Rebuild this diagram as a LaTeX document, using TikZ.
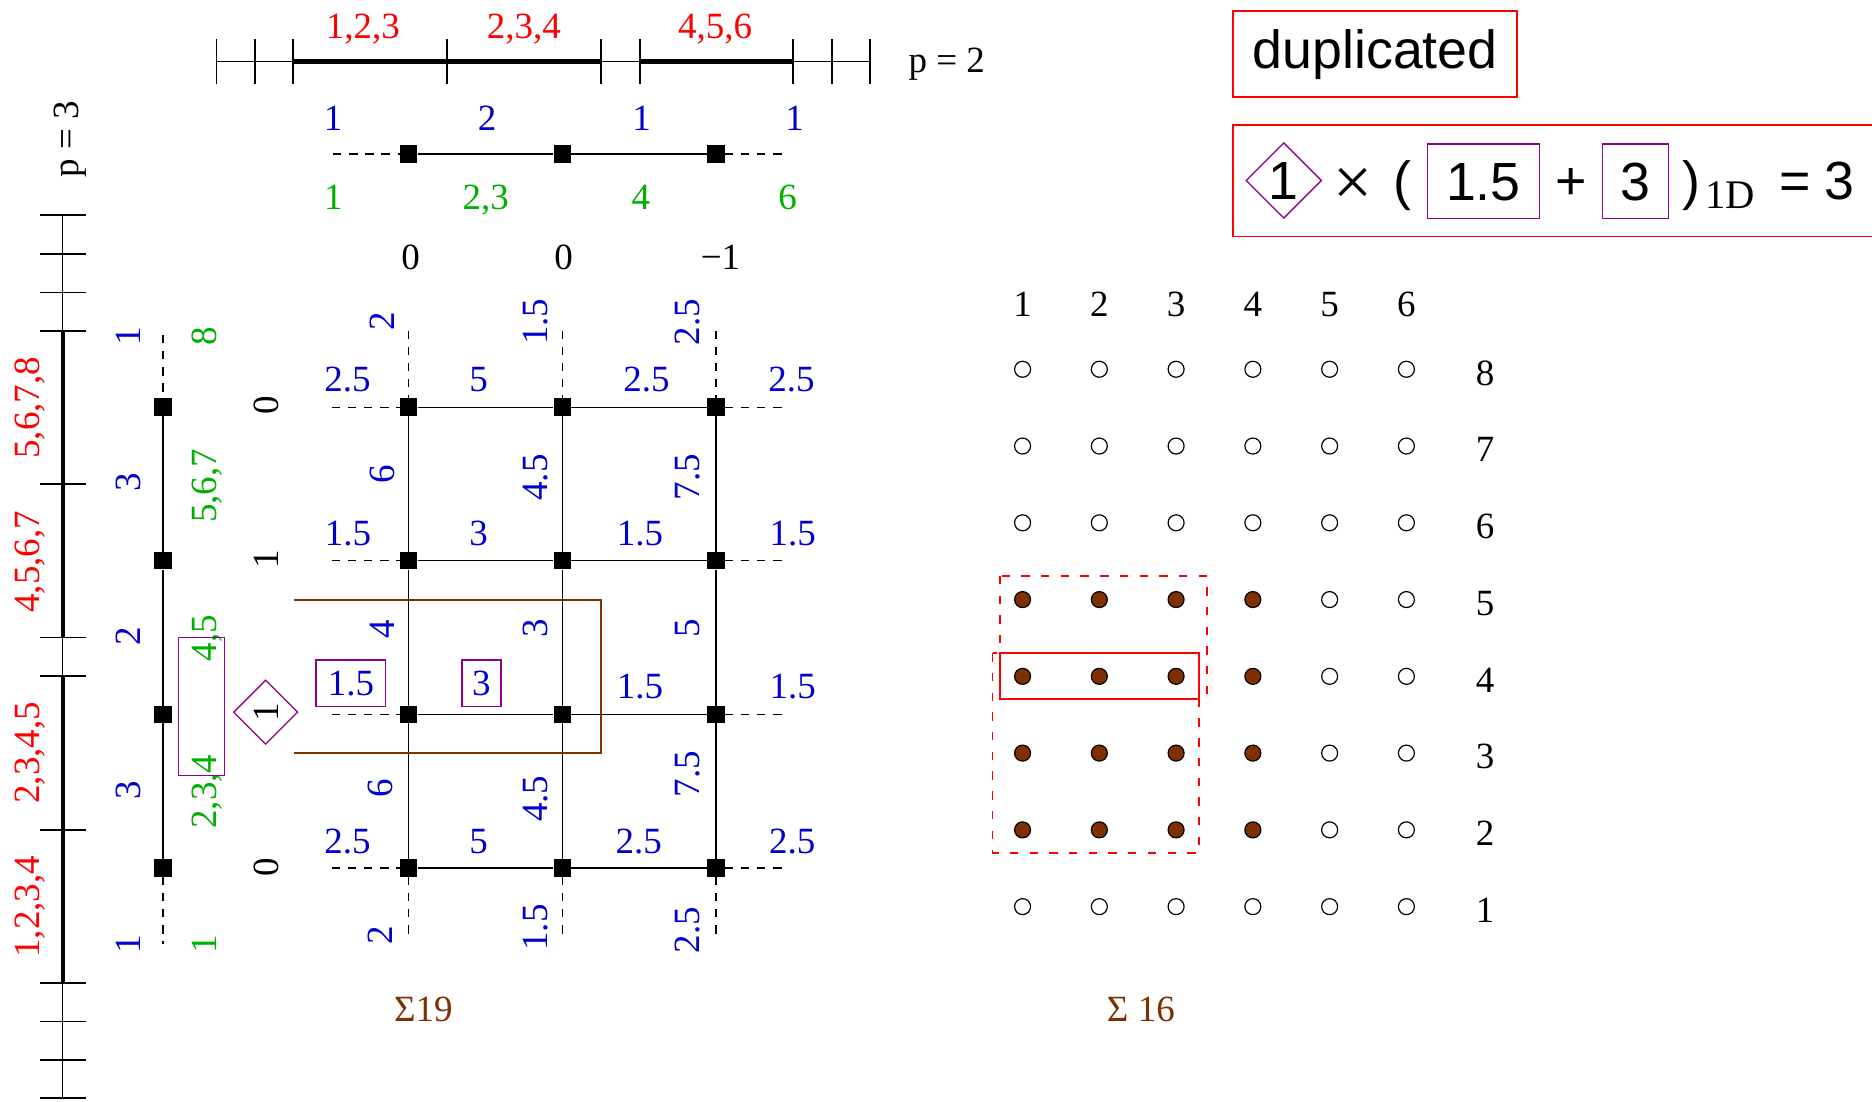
\documentclass[tikz,border=0pt]{standalone}
\usepackage{fontspec}
\setmainfont{Liberation Serif}
\newfontfamily\sansfnt{Liberation Sans}
\usepackage{xcolor}
\usepackage{tikz}
\usetikzlibrary{shapes.geometric,positioning}
\definecolor{knotblue}{RGB}{0,0,208}
\definecolor{knotred}{RGB}{255,0,0}
\definecolor{knotgreen}{RGB}{0,176,0}
\definecolor{suppbrown}{RGB}{128,48,0}
\definecolor{markpurple}{RGB}{144,0,144}

\begin{document}
\begin{tikzpicture}[
  x=1pt,y=-1pt,
  lbl/.style={font=\fontsize{31}{36}\selectfont,inner sep=0pt,text height=21pt,text depth=0pt},
  vlbl/.style={lbl,rotate=90},
  sans/.style={font=\sansfnt\fontsize{45}{54}\selectfont,inner sep=0pt},
  sansbox/.style={sans,text height=32pt,text depth=0pt},
  knot/.style={rectangle,fill=black,inner sep=0pt,minimum size=14.5pt},
  ctrl/.style={circle,draw=black,line width=1pt,fill=white,inner sep=0pt,minimum size=13.4pt},
  gridline/.style={line width=1pt},
  ext/.style={line width=1pt,dash pattern=on 7pt off 6.5pt},
  axisline/.style={line width=0.9pt},
  thickspan/.style={line width=3.8pt},
  tickmark/.style={line width=1.4pt},
  markbox/.style={draw=markpurple,line width=1.1pt},
  supp/.style={draw=suppbrown,line width=1.5pt},
  hit/.style={draw=knotred,line width=1.4pt},
  hitdash/.style={hit,dash pattern=on 7pt off 9.5pt}
]
\useasboundingbox (0,0) rectangle (1568,923);

% knot vector, p = 2
\draw[axisline] (181.3,51.5)--(728.6,51.5);
\draw[thickspan] (245.6,51.5)--(503.4,51.5) (535.8,51.5)--(664.3,51.5);
\foreach \tx in {181.3,213.6,245.6,374.5,503.4,535.8,664.3,696.7,728.6}
  \draw[tickmark] (\tx,33)--(\tx,70.5);
\foreach \lx/\lt [count=\i] in {304/{1,2,3},438.8/{2,3,4},599/{4,5,6}}
  \node[lbl,text=knotred] (kx\i) at (\lx,22) {\lt};
\node[lbl] (px) at (793,50) {p = 2};

% knot vector, p = 3
\draw[axisline] (52.7,180)--(52.7,919.6);
\draw[thickspan] (52.7,277)--(52.7,534) (52.7,566)--(52.7,823.5);
\foreach \ty in {180,212.6,244.9,277,405.4,534,566,695,823.5,855.7,887.8,919.6}
  \draw[tickmark] (33.5,\ty)--(72,\ty);
\foreach \ly/\lt [count=\i] in {341.5/{5,6,7,8},470.5/{4,5,6,7},630.5/{2,3,4,5},759.5/{1,2,3,4}}
  \node[vlbl,text=knotred] (ky\i) at (23,\ly) {\lt};
\node[vlbl] (py) at (55,116.5) {p = 3};

% 1D mesh along x
\node[knot] (u1) at (342.3,129) {};
\node[knot] (u2) at (471,129) {};
\node[knot] (u3) at (599.7,129) {};
\coordinate (u0) at (279,129);
\coordinate (u4) at (660.8,129);
\draw[gridline] (u1)--(u2)--(u3);
\draw[ext] (u0)--(u1) (u3)--(u4);
\foreach \lx/\lt [count=\i] in {279/1,408/2,537.5/1,665.5/1}
  \node[lbl,text=knotblue] (ub\i) at (\lx,99) {\lt};
\foreach \lx/\lt [count=\i] in {279.3/1,406.9/{2,3},536.7/4,659.7/6}
  \node[lbl,text=knotgreen] (ug\i) at (\lx,165) {\lt};
\foreach \lx/\lt [count=\i] in {344/0,472/0,603.5/−1}
  \node[lbl] (uk\i) at (\lx,215) {\lt};

% 1D mesh along y
\node[knot] (w1) at (136.5,341) {};
\node[knot] (w2) at (136.5,469.7) {};
\node[knot] (w3) at (136.5,598.4) {};
\node[knot] (w4) at (136.5,727) {};
\coordinate (w0) at (136.5,280.6);
\coordinate (w5) at (136.5,791);
\draw[gridline] (w1)--(w2)--(w3)--(w4);
\draw[ext] (w0)--(w1) (w4)--(w5);
\foreach \ly/\lt [count=\i] in {282/1,404/3,533/2,662/3,790.5/1}
  \node[vlbl,text=knotblue] (wb\i) at (107,\ly) {\lt};
\foreach \ly/\lt [count=\i] in {281.6/8,407/{5,6,7},534.6/{4,5},663/{2,3,4},790.5/1}
  \node[vlbl,text=knotgreen] (wg\i) at (171,\ly) {\lt};
\foreach \ly/\lt [count=\i] in {339.6/0,468.4/1,726/0}
  \node[vlbl] (wk\i) at (222.5,\ly) {\lt};
\node[vlbl,markbox,shape=diamond,minimum size=54pt] (wdia) at (222.5,596.5) {1};
\draw[markbox] (149.5,534) rectangle (188,649.6);

% 2D mesh
\foreach \c/\gx in {1/342.3,2/471,3/599.7}{
  \foreach \r/\gy in {1/341,2/469.7,3/598.4,4/727}
    \node[knot] (g\c\r) at (\gx,\gy) {};
  \coordinate (gt\c) at (\gx,277);
  \coordinate (gb\c) at (\gx,788);
}
\foreach \r/\gy in {1/341,2/469.7,3/598.4,4/727}{
  \coordinate (gl\r) at (278,\gy);
  \coordinate (gr\r) at (659,\gy);
  \draw[gridline] (g1\r)--(g2\r)--(g3\r);
  \draw[ext] (gl\r)--(g1\r) (g3\r)--(gr\r);
}
\foreach \c in {1,2,3}{
  \draw[gridline] (g\c1)--(g\c2)--(g\c3)--(g\c4);
  \draw[ext] (gt\c)--(g\c1) (g\c4)--(gb\c);
}
\foreach \lx/\ly/\lt [count=\i] in {291/317.7/2.5,401/317.7/5,541.6/317.7/2.5,663/317.7/2.5,
    291.5/446.6/1.5,401/446.6/3,536/446.6/1.5,664/446.6/1.5,536/574.2/1.5,664/574.2/1.5,
    291/704.3/2.5,401/704.3/5,535/704.3/2.5,663.6/704.3/2.5}
  \node[lbl,text=knotblue] (gh\i) at (\lx,\ly) {\lt};
\foreach \lx/\ly/\lt [count=\i] in {319.6/269/2,319.6/397/6,319.6/527/4,318.3/660.3/6,318.3/783/2,
    448/269.4/1.5,448/400/4.5,448/526.4/3,448/669/4.5,448/776.8/1.5,
    575.7/269.6/2.5,575.5/399.5/7.5,575.5/526.4/5,575/648.3/7.5,575/779/2.5}
  \node[vlbl,text=knotblue] (gv\i) at (\lx,\ly) {\lt};
\node[lbl,markbox,text=knotblue,minimum width=58.3pt,minimum height=39.2pt] (gbox1) at (293.9,572.4) {1.5};
\node[lbl,markbox,text=knotblue,minimum width=32.6pt,minimum height=39.2pt] (gbox2) at (403.3,572.4) {3};
\draw[supp] (246,502.5)--(503.4,502.5)--(503.4,630.4)--(246,630.4);
\node[lbl,text=suppbrown] (sum2d) at (354.6,845) {Σ19};

% control points
\foreach \c in {1,...,6}{
  \node[lbl] (col\c) at ({856.5+64.3*(\c-1)},254.5) {\c};
  \foreach \r in {1,...,8}{
    \pgfmathtruncatemacro\on{and(\c<5,and(\r>1,\r<6))}
    \ifnum\on=1 \def\cfill{suppbrown}\else\def\cfill{white}\fi
    \node[ctrl,fill=\cfill] (c\c-\r) at ({856.5+64.3*(\c-1)},{759.4-64.3*(\r-1)}) {};
  }
}
\foreach \r in {1,...,8}
  \node[lbl] (row\r) at (1244,{762.2-64.3*(\r-1)}) {\r};
\draw[hitdash] (837.5,482.4) rectangle (1011,585.4);
\draw[hitdash] (831.4,547.2) rectangle (1004.5,714.2);
\draw[hit] (837.5,547.2) rectangle (1004.5,585.4);
\node[lbl,text=suppbrown] (sum1d) at (955.6,845.5) {Σ 16};

% legend
\node[sans,hit,minimum width=237.8pt,minimum height=72.3pt] (dup) at (1151.9,45.35) {duplicated};
\draw[hit] (1600,104.7)--(1033,104.7)--(1033,198.2)--(1600,198.2);
\node[sansbox,markbox,shape=diamond,minimum size=63.4pt] (fdia) at (1075.3,151.2) {1};
\node[font=\fontsize{58}{62}\selectfont,inner sep=0pt,anchor=base] (ftimes) at (1133,172) {×};
\node[sans,anchor=base] (fopen) at (1174.8,167.5) {(};
\node[sansbox,markbox,minimum width=93.5pt,minimum height=62.7pt] (fbox1) at (1242.5,151.9) {1.5};
\node[sans,anchor=base] (fplus) at (1315.8,167.5) {+};
\node[sansbox,markbox,minimum width=55.3pt,minimum height=62.7pt] (fbox2) at (1369.7,151.9) {3};
\node[sans,anchor=base] (fclose) at (1416.9,167.5) {)};
\node[font=\fontsize{34}{40}\selectfont,inner sep=0pt,anchor=base] (fsub) at (1449,175) {1D};
\node[sans,anchor=base] (feq) at (1503.5,167.5) {=};
\node[sans,anchor=base] (fres) at (1541,167.5) {3};
\end{tikzpicture}
\end{document}
